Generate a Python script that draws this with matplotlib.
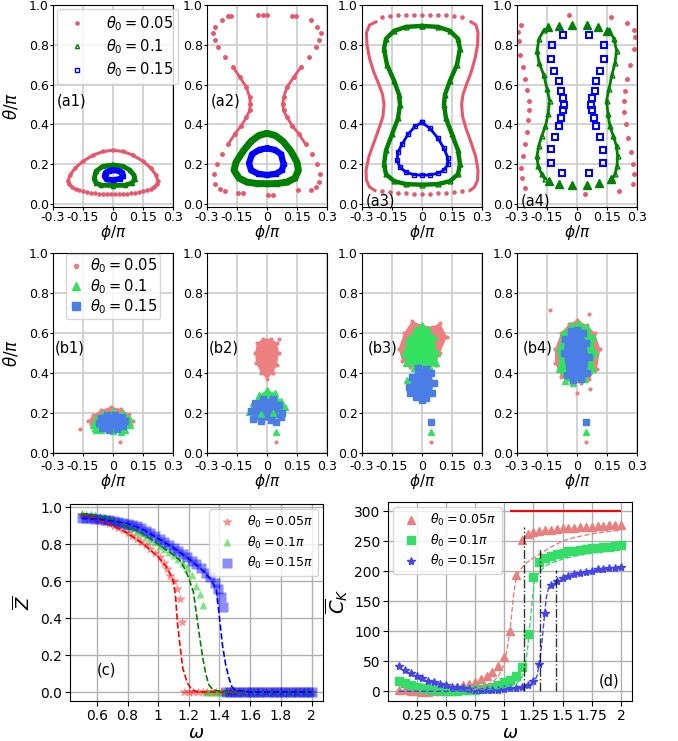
import numpy as np
import matplotlib.pyplot as plt

# ---------------- colours ----------------
PINK_A, GREEN_A, BLUE_A = '#e8566c', 'green', 'blue'
PINK_B, GREEN_B, BLUE_B = '#ec8080', '#33e060', '#4a7ee6'

# ---------------- (a) orbits ----------------
a1_pink_phi = [-0.185, -0.205, -0.22, -0.225, -0.215, -0.19, -0.15, -0.1, -0.05, 0, 0.05, 0.1, 0.15, 0.19, 0.215, 0.225, 0.22, 0.205, 0.19]
a1_pink_theta = [0.073, 0.085, 0.1, 0.115, 0.145, 0.18, 0.215, 0.245, 0.264, 0.27, 0.264, 0.245, 0.215, 0.18, 0.145, 0.115, 0.1, 0.085, 0.073]
a1_pdot_phi = [-0.17, -0.15, -0.13, -0.11, -0.09, -0.07, -0.05, -0.03, -0.01, 0.01, 0.03, 0.05, 0.07, 0.09, 0.11, 0.13, 0.15, 0.17]
a1_pdot_theta = [0.068, 0.063, 0.059, 0.056, 0.054, 0.052, 0.051, 0.05, 0.05, 0.05, 0.05, 0.051, 0.052, 0.054, 0.056, 0.059, 0.063, 0.068]
a1_green_phi = [0, 0.05, 0.085, 0.105, 0.108, 0.095, 0.06, 0, -0.06, -0.085, -0.093, -0.085, -0.05, 0]
a1_green_theta = [0.196, 0.19, 0.17, 0.145, 0.125, 0.105, 0.095, 0.093, 0.095, 0.105, 0.13, 0.165, 0.19, 0.196]
a1_blue_phi = [0, 0.03, 0.046, 0.05, 0.037, 0, -0.032, -0.042, -0.037, -0.022, 0]
a1_blue_theta = [0.171, 0.166, 0.157, 0.143, 0.127, 0.12, 0.124, 0.14, 0.157, 0.167, 0.171]

a2_pl_phi = [-0.194, -0.227, -0.26, -0.269, -0.26, -0.244, -0.211, -0.17, -0.136, -0.103, -0.087, -0.083, -0.087, -0.103, -0.128, -0.161, -0.194, -0.227, -0.252, -0.265, -0.26, -0.235, -0.211]
a2_pl_theta = [0.946, 0.924, 0.89, 0.857, 0.823, 0.79, 0.739, 0.688, 0.638, 0.587, 0.537, 0.503, 0.47, 0.436, 0.394, 0.352, 0.3, 0.251, 0.2, 0.15, 0.1, 0.074, 0.066]
a2_pr_phi = [0.145, 0.22, 0.252, 0.269, 0.262, 0.245, 0.212, 0.17, 0.134, 0.1, 0.083, 0.079, 0.083, 0.1, 0.126, 0.16, 0.193, 0.226, 0.25, 0.265, 0.262, 0.244, 0.22]
a2_pr_theta = [0.946, 0.924, 0.89, 0.857, 0.823, 0.79, 0.739, 0.688, 0.638, 0.587, 0.537, 0.503, 0.47, 0.436, 0.394, 0.352, 0.3, 0.251, 0.2, 0.15, 0.11, 0.085, 0.07]
a2_pdot_phi = [-0.18, -0.045, -0.022, 0.0, 0.125, -0.145, -0.12, 0.004, 0.029, 0.155]
a2_pdot_theta = [0.945, 0.95, 0.95, 0.95, 0.945, 0.055, 0.055, 0.047, 0.047, 0.068]
a2_green_phi = [0, 0.04, 0.08, 0.12, 0.15, 0.157, 0.14, 0.1, 0.05, 0, -0.05, -0.1, -0.14, -0.165, -0.155, -0.12, -0.08, -0.04, 0]
a2_green_theta = [0.355, 0.345, 0.315, 0.265, 0.21, 0.17, 0.13, 0.11, 0.103, 0.102, 0.103, 0.11, 0.13, 0.17, 0.21, 0.265, 0.315, 0.345, 0.355]
a2_blue_phi = [0, 0.04, 0.07, 0.083, 0.075, 0.045, 0, -0.045, -0.08, -0.09, -0.075, -0.04, 0]
a2_blue_theta = [0.28, 0.272, 0.25, 0.2, 0.17, 0.152, 0.146, 0.152, 0.17, 0.205, 0.25, 0.272, 0.28]

a3_pl_phi = [-0.23, -0.262, -0.278, -0.275, -0.262, -0.24, -0.215, -0.197, -0.19, -0.195, -0.215, -0.24, -0.265, -0.28, -0.278, -0.262, -0.235]
a3_pl_theta = [0.915, 0.9, 0.86, 0.8, 0.73, 0.66, 0.6, 0.55, 0.5, 0.44, 0.38, 0.31, 0.24, 0.17, 0.12, 0.085, 0.068]
a3_pr_phi = [0.245, 0.27, 0.28, 0.278, 0.265, 0.245, 0.222, 0.205, 0.198, 0.203, 0.22, 0.245, 0.268, 0.28, 0.278, 0.262, 0.24]
a3_pr_theta = [0.915, 0.9, 0.86, 0.8, 0.73, 0.66, 0.6, 0.55, 0.5, 0.44, 0.38, 0.31, 0.24, 0.17, 0.12, 0.085, 0.068]
a3_pdot_phi = [-0.2, -0.16, -0.12, -0.08, -0.04, 0, 0.04, 0.08, 0.12, 0.16, 0.2,
               -0.2, -0.16, -0.12, -0.08, -0.04, 0, 0.04, 0.08, 0.12, 0.16, 0.2]
a3_pdot_theta = [0.94, 0.945, 0.948, 0.95, 0.95, 0.95, 0.95, 0.95, 0.948, 0.945, 0.94,
                 0.065, 0.06, 0.056, 0.053, 0.052, 0.052, 0.052, 0.053, 0.056, 0.06, 0.065]
a3_green_phi = [0, 0.08, 0.14, 0.18, 0.19, 0.175, 0.14, 0.115, 0.11, 0.12, 0.15, 0.18, 0.19, 0.18, 0.14, 0.08, 0,
                -0.08, -0.14, -0.18, -0.19, -0.18, -0.15, -0.12, -0.11, -0.115, -0.14, -0.175, -0.19, -0.18, -0.14, -0.08, 0]
a3_green_theta = [0.895, 0.89, 0.87, 0.83, 0.78, 0.7, 0.62, 0.55, 0.5, 0.43, 0.35, 0.27, 0.2, 0.15, 0.115, 0.1, 0.097,
                  0.1, 0.115, 0.15, 0.2, 0.27, 0.35, 0.43, 0.5, 0.55, 0.62, 0.7, 0.78, 0.83, 0.87, 0.89, 0.895]
a3_blue_phi = [0, 0.04, 0.08, 0.11, 0.13, 0.13, 0.11, 0.08, 0.04, 0, -0.04, -0.08, -0.11, -0.125, -0.12, -0.1, -0.07, -0.035, 0]
a3_blue_theta = [0.41, 0.38, 0.33, 0.28, 0.23, 0.2, 0.17, 0.155, 0.146, 0.145, 0.147, 0.16, 0.185, 0.22, 0.26, 0.3, 0.35, 0.39, 0.41]

a4_pink_phi = [-0.28, -0.293, -0.29, -0.284, -0.272, -0.26, -0.25, -0.24, -0.24, -0.245, -0.252, -0.262, -0.272, -0.28, -0.275, -0.26,
               0.25, 0.283, 0.29, 0.283, 0.265, 0.25, 0.24, 0.235, 0.237, 0.245, 0.255, 0.27, 0.28, 0.285, 0.28, 0.21,
               -0.04, 0.17, 0.04]
a4_pink_theta = [0.9, 0.865, 0.82, 0.75, 0.69, 0.63, 0.575, 0.52, 0.47, 0.42, 0.36, 0.3, 0.24, 0.18, 0.13, 0.08,
                 0.91, 0.875, 0.84, 0.78, 0.7, 0.63, 0.57, 0.52, 0.46, 0.4, 0.33, 0.26, 0.2, 0.15, 0.1, 0.065,
                 0.95, 0.94, 0.05]
a4_gl_phi = [-0.165, -0.19, -0.2, -0.19, -0.167, -0.15, -0.137, -0.145, -0.158, -0.177, -0.192, -0.2, -0.195, -0.177, -0.16]
a4_gr_phi = [0.16, 0.185, 0.198, 0.19, 0.175, 0.16, 0.148, 0.155, 0.165, 0.182, 0.198, 0.203, 0.2, 0.19, 0.175]
a4_gside_theta = [0.875, 0.83, 0.77, 0.71, 0.65, 0.58, 0.52, 0.45, 0.39, 0.34, 0.29, 0.24, 0.19, 0.15, 0.125]
a4_gcap_phi = [-0.143, -0.088, -0.027, 0.048, 0.107, 0.148, -0.14, -0.09, -0.023, 0.052, 0.11, 0.168]
a4_gcap_theta = [0.89, 0.894, 0.9, 0.9, 0.89, 0.87, 0.116, 0.1, 0.098, 0.098, 0.104, 0.125]
a4_blue_phi = [-0.072, -0.127, -0.13, -0.117, -0.092, -0.08, -0.07, -0.067, -0.07, -0.08, -0.092, -0.112, -0.13, -0.128, -0.075,
               0.062, 0.137, 0.133, 0.113, 0.097, 0.088, 0.075, 0.072, 0.075, 0.083, 0.097, 0.113, 0.13, 0.13, 0.062]
a4_blue_theta = [0.848, 0.8, 0.73, 0.67, 0.62, 0.57, 0.535, 0.5, 0.47, 0.43, 0.39, 0.335, 0.275, 0.207, 0.155,
                 0.848, 0.8, 0.73, 0.67, 0.62, 0.57, 0.535, 0.5, 0.47, 0.43, 0.39, 0.335, 0.27, 0.205, 0.155]

# ---------------- (b) clouds: outline vertices + stray points ----------------
b_pink = [
    ([-0.125, -0.1, -0.06, -0.01, 0.04, 0.08, 0.1, 0.09, 0.05, -0.05, -0.11], [0.16, 0.19, 0.215, 0.232, 0.22, 0.195, 0.16, 0.14, 0.13, 0.13, 0.145]),
    ([-0.06, -0.05, -0.02, 0.02, 0.05, 0.06, 0.05, 0.03, 0, -0.03, -0.055], [0.5, 0.55, 0.572, 0.572, 0.55, 0.5, 0.44, 0.4, 0.37, 0.4, 0.45]),
    ([-0.117, -0.09, -0.05, 0, 0.05, 0.09, 0.125, 0.09, 0.07, 0.04, -0.06, -0.1], [0.52, 0.6, 0.66, 0.64, 0.63, 0.65, 0.58, 0.5, 0.44, 0.43, 0.43, 0.46]),
    ([-0.11, -0.08, -0.04, 0, 0.05, 0.09, 0.117, 0.1, 0.06, 0.02, -0.03, -0.08, -0.11], [0.52, 0.6, 0.645, 0.665, 0.64, 0.6, 0.52, 0.42, 0.37, 0.35, 0.35, 0.38, 0.45]),
]
b_green = [
    ([-0.1, -0.085, -0.05, 0, 0.05, 0.08, 0.085, 0.06, 0, -0.06, -0.09], [0.14, 0.175, 0.2, 0.208, 0.2, 0.175, 0.14, 0.115, 0.108, 0.115, 0.125]),
    ([-0.092, -0.07, -0.04, 0, 0.04, 0.07, 0.092, 0.07, 0.03, -0.03], [0.205, 0.25, 0.29, 0.315, 0.3, 0.26, 0.23, 0.215, 0.2, 0.195]),
    ([-0.092, -0.07, -0.03, 0, 0.03, 0.06, 0.075, 0.07, 0.04, -0.04, -0.08], [0.5, 0.57, 0.62, 0.642, 0.62, 0.58, 0.5, 0.45, 0.425, 0.425, 0.45]),
    ([-0.092, -0.07, -0.03, 0.01, 0.05, 0.08, 0.092, 0.08, 0.04, -0.02, -0.06, -0.09], [0.52, 0.6, 0.64, 0.65, 0.63, 0.58, 0.5, 0.42, 0.37, 0.35, 0.36, 0.42]),
]
b_blue = [
    ([-0.07, -0.06, -0.03, 0.01, 0.045, 0.058, 0.05, 0.02, -0.02, -0.055], [0.15, 0.175, 0.19, 0.192, 0.18, 0.16, 0.135, 0.118, 0.116, 0.125]),
    ([-0.08, -0.06, -0.02, 0.03, 0.06, 0.075, 0.07, 0.02, -0.03, -0.07], [0.21, 0.25, 0.272, 0.27, 0.24, 0.2, 0.18, 0.165, 0.158, 0.17]),
    ([-0.067, -0.05, -0.02, 0.02, 0.045, 0.058, 0.05, 0.02, 0, -0.03, -0.06], [0.33, 0.38, 0.425, 0.42, 0.4, 0.35, 0.3, 0.275, 0.267, 0.28, 0.3]),
    ([-0.067, -0.06, -0.03, 0.0, 0.03, 0.045, 0.058, 0.05, 0.02, -0.02, -0.05], [0.5, 0.57, 0.61, 0.617, 0.6, 0.55, 0.48, 0.4, 0.37, 0.367, 0.39]),
]
b_pink_stray = [([-0.167, 0.037], [0.12, 0.053]), ([0.047, 0.058], [0.053, 0.57]),
                ([0.045], [0.053]), ([0.045, -0.133, 0.058, 0.0, 0.065], [0.053, 0.717, 0.697, 0.3, 0.32])]
b_green_stray = [([-0.083, 0.042], [0.117, 0.103]), ([0.047], [0.103]), ([0.045, -0.075], [0.103, 0.367]), ([0.045], [0.103])]
b_blue_stray = [([], []), ([0.047], [0.153]), ([0.045], [0.153]), ([0.045], [0.153])]

# ---------------- (c) order parameter ----------------
c_w_red = [0.50, 0.53, 0.56, 0.59, 0.62, 0.65, 0.68, 0.71, 0.74, 0.77, 0.80, 0.83, 0.86, 0.89, 0.92, 0.95, 0.98, 1.01, 1.04, 1.06, 1.08, 1.10, 1.12, 1.14, 1.155,
           1.17, 1.20, 1.23, 1.26, 1.29, 1.32, 1.35, 1.38, 1.41, 1.44, 1.47, 1.50, 1.55, 1.60, 1.65, 1.70, 1.75, 1.80, 1.85, 1.90, 1.95, 2.0]
c_z_red = [0.958, 0.952, 0.945, 0.937, 0.929, 0.920, 0.910, 0.899, 0.887, 0.874, 0.860, 0.845, 0.829, 0.812, 0.793, 0.773, 0.751, 0.728, 0.695, 0.665, 0.628, 0.598, 0.557, 0.503, 0.381,
           0, 0, 0, 0, 0, 0, 0, 0, 0, 0, 0, 0, 0, 0, 0, 0, 0, 0, 0, 0, 0, 0]
c_w_green = [0.50, 0.53, 0.56, 0.59, 0.62, 0.65, 0.68, 0.71, 0.74, 0.77, 0.80, 0.83, 0.86, 0.89, 0.92, 0.95, 0.98, 1.01, 1.04, 1.07, 1.10, 1.13, 1.16, 1.19, 1.22, 1.25, 1.27, 1.29,
             1.31, 1.34, 1.37, 1.40, 1.43, 1.46, 1.50, 1.55, 1.60, 1.65, 1.70, 1.75, 1.80, 1.85, 1.90, 1.95, 2.0]
c_z_green = [0.968, 0.964, 0.96, 0.955, 0.95, 0.944, 0.937, 0.93, 0.921, 0.911, 0.898, 0.886, 0.873, 0.859, 0.844, 0.828, 0.81, 0.792, 0.775, 0.757, 0.74, 0.72, 0.697, 0.67, 0.63, 0.575, 0.53, 0.472,
             0, 0, 0, 0, 0, 0, 0, 0, 0, 0, 0, 0, 0, 0, 0, 0, 0]
c_w_blue = [0.50, 0.53, 0.56, 0.59, 0.62, 0.65, 0.68, 0.71, 0.74, 0.77, 0.80, 0.83, 0.86, 0.89, 0.92, 0.95, 0.98, 1.01, 1.04, 1.07, 1.10, 1.13, 1.16, 1.19, 1.22, 1.25, 1.28, 1.31, 1.34, 1.37, 1.39, 1.41, 1.425,
            1.44, 1.47, 1.50, 1.53, 1.56, 1.59, 1.62, 1.65, 1.68, 1.71, 1.74, 1.77, 1.80, 1.83, 1.86, 1.89, 1.92, 1.95, 1.98, 2.0]
c_z_blue = [0.942, 0.941, 0.939, 0.937, 0.934, 0.931, 0.928, 0.924, 0.92, 0.915, 0.91, 0.903, 0.895, 0.885, 0.873, 0.86, 0.845, 0.828, 0.812, 0.796, 0.78, 0.765, 0.748, 0.73, 0.71, 0.69, 0.668, 0.645, 0.62, 0.59, 0.555, 0.515, 0.461,
            0, 0, 0, 0, 0, 0, 0, 0, 0, 0, 0, 0, 0, 0, 0, 0, 0, 0, 0, 0]
c_fit_w_red = [0.5, 0.6, 0.7, 0.8, 0.9, 1.0, 1.05, 1.08, 1.1, 1.115, 1.125, 1.14, 1.16, 1.19, 1.22, 1.26, 1.4, 2.0]
c_fit_z_red = [0.962, 0.936, 0.9, 0.86, 0.803, 0.73, 0.68, 0.635, 0.6, 0.5, 0.38, 0.27, 0.13, 0.05, 0.012, 0.0, 0.0, 0.0]
c_fit_w_green = [0.5, 0.6, 0.7, 0.8, 0.9, 1.0, 1.1, 1.15, 1.19, 1.21, 1.23, 1.25, 1.27, 1.29, 1.31, 1.33, 1.36, 1.45, 2.0]
c_fit_z_green = [0.965, 0.953, 0.935, 0.897, 0.856, 0.8, 0.742, 0.705, 0.635, 0.59, 0.54, 0.42, 0.3, 0.19, 0.1, 0.04, 0.01, 0.0, 0.0]
c_fit_w_blue = [0.5, 0.6, 0.7, 0.8, 0.9, 1.0, 1.1, 1.2, 1.3, 1.35, 1.38, 1.4, 1.42, 1.44, 1.46, 1.48, 1.5, 1.6, 2.0]
c_fit_z_blue = [0.938, 0.935, 0.925, 0.912, 0.88, 0.83, 0.78, 0.72, 0.65, 0.6, 0.55, 0.4, 0.25, 0.15, 0.08, 0.03, 0.01, 0.0, 0.0]

# ---------------- (d) C_K ----------------
d_w = [0.10, 0.15, 0.20, 0.25, 0.30, 0.35, 0.40, 0.45, 0.50, 0.55, 0.60, 0.65, 0.70, 0.75, 0.80, 0.85, 0.90, 0.95, 1.00,
       1.05, 1.10, 1.15, 1.20, 1.25, 1.30, 1.35, 1.40, 1.45, 1.50, 1.55, 1.60, 1.65, 1.70, 1.75, 1.80, 1.85, 1.90, 1.95, 2.00]
d_c_red = [3, 2, 1, 0, -1, -1, 0, 1, 4, 6, 8, 10, 13, 16, 20, 26, 33, 42, 57,
           100, 193, 252, 262, 265, 267, 268, 269, 270, 271, 272, 272, 273, 274, 274, 275, 275, 276, 276, 277]
d_c_green = [18, 14, 10, 7, 5, 4, 3, 2, 1, 1, 1, 2, 2, 3, 4, 6, 8, 11, 15,
             19, 26, 40, 96, 190, 215, 222, 226, 229, 231, 233, 234, 236, 237, 238, 239, 240, 241, 242, 243]
d_c_blue = [42, 35, 30, 26, 22, 18, 15, 12, 10, 8, 7, 5, 4, 3, 3, 2, 2, 3, 4,
            5, 6, 8, 11, 17, 45, 130, 177, 184, 188, 192, 195, 197, 199, 201, 203, 204, 205, 206, 207]
d_fit_w_red = [0.1, 0.3, 0.5, 0.7, 0.8, 0.9, 0.95, 1.0, 1.03, 1.06, 1.08, 1.1, 1.13, 1.17, 1.22, 1.3, 1.4, 1.5, 1.6, 1.75, 1.9, 2.0]
d_fit_c_red = [0, 0, 0, 2, 6, 15, 25, 45, 75, 120, 160, 185, 200, 210, 218, 228, 240, 250, 256, 262, 266, 268]
d_fit_w_green = [0.1, 0.5, 0.9, 1.0, 1.1, 1.15, 1.18, 1.2, 1.22, 1.24, 1.26, 1.3, 1.35, 1.4, 1.5, 1.6, 1.75, 1.9, 2.0]
d_fit_c_green = [0, 0, 3, 6, 12, 22, 40, 70, 110, 150, 185, 198, 208, 213, 220, 225, 230, 234, 236]
d_fit_w_blue = [0.1, 0.5, 1.0, 1.2, 1.25, 1.28, 1.3, 1.32, 1.34, 1.36, 1.38, 1.4, 1.45, 1.5, 1.6, 1.75, 1.9, 2.0]
d_fit_c_blue = [0, 0, 2, 8, 14, 25, 45, 75, 115, 155, 172, 177, 182, 186, 192, 198, 203, 205]
d_crit_w = [1.168, 1.308, 1.443]
d_crit_top = [274, 238, 202]

# ---------------- figure ----------------
fig = plt.figure(figsize=(6.78, 7.41), dpi=100)
W, H = 678, 741
lefts = [53, 207, 362, 517]


def panel_axes(left, top, bottom, width=120):
    return fig.add_axes([left / W, 1 - bottom / H, width / W, (bottom - top) / H])


def style_phase(ax, ylim, xpad=1):
    ax.set_xlim(-0.3, 0.3)
    ax.set_ylim(*ylim)
    ax.set_xticks([-0.3, -0.15, 0, 0.15, 0.3])
    ax.set_xticklabels(['-0.3', '-0.15', '0', '0.15', '0.3'])
    ax.set_yticks([0, 0.2, 0.4, 0.6, 0.8, 1.0])
    ax.set_yticklabels(['0.0', '0.2', '0.4', '0.6', '0.8', '1.0'])
    ax.tick_params(labelsize=9, length=2, pad=1)
    ax.tick_params(axis='x', pad=xpad)
    ax.grid(True, color='0.8', lw=1.2)
    ax.set_axisbelow(True)
    ax.set_xlabel(r'$\phi/\pi$', fontsize=11, labelpad=-1)


def band(ax, phi, theta, color, lw, marker, ms, label=None, mfc='none'):
    ax.plot(phi, theta, '-', color=color, lw=lw, solid_capstyle='round')
    ax.plot(phi, theta, marker, ls='none', color=color, ms=ms, mfc=mfc, mew=1, label=label)


# row a
axa = [panel_axes(l, 5, 207) for l in lefts]
for ax in axa:
    style_phase(ax, (-0.015, 1.0))

ax = axa[0]
ax.plot(a1_pink_phi, a1_pink_theta, '-', color=PINK_A, lw=2.2)
ax.plot(a1_pdot_phi + a1_pink_phi, a1_pdot_theta + a1_pink_theta, '.', color=PINK_A, ms=4.5,
        label=r'$\theta_0 = 0.05$')
band(ax, a1_green_phi, a1_green_theta, GREEN_A, 3.5, '^', 3, r'$\theta_0 = 0.1$')
band(ax, a1_blue_phi, a1_blue_theta, BLUE_A, 4.2, 's', 2.5, r'$\theta_0 = 0.15$')
ax.legend(loc='upper left', fontsize=10.5, borderpad=0.35, labelspacing=0.3,
          handletextpad=1.0, borderaxespad=0.3)
ax.set_ylabel(r'$\theta/\pi$', fontsize=12)
ax.yaxis.set_label_coords(-0.27, 0.5)

ax = axa[1]
for ph, th in [(a2_pl_phi, a2_pl_theta), (a2_pr_phi, a2_pr_theta)]:
    ax.plot(ph[7:17], th[7:17], '-', color=PINK_A, lw=2)
    ax.plot(ph, th, '.', color=PINK_A, ms=5)
ax.plot(a2_pdot_phi, a2_pdot_theta, '.', color=PINK_A, ms=5)
band(ax, a2_green_phi, a2_green_theta, GREEN_A, 5, '^', 3)
band(ax, a2_blue_phi, a2_blue_theta, BLUE_A, 4.5, 's', 3)

ax = axa[2]
for ph, th in [(a3_pl_phi, a3_pl_theta), (a3_pr_phi, a3_pr_theta)]:
    ax.plot(ph, th, '-', color=PINK_A, lw=2.2)
ax.plot(a3_pdot_phi, a3_pdot_theta, '.', color=PINK_A, ms=4.5)
band(ax, a3_green_phi, a3_green_theta, GREEN_A, 3.2, '^', 3.5)
ax.plot(a3_blue_phi, a3_blue_theta, '-', color=BLUE_A, lw=2)
ax.plot(a3_blue_phi, a3_blue_theta, 's', ls='none', color=BLUE_A, ms=3.5, mfc='none')

ax = axa[3]
ax.plot(a4_pink_phi, a4_pink_theta, '.', color=PINK_A, ms=5)
for ph in [a4_gl_phi, a4_gr_phi]:
    band(ax, ph, a4_gside_theta, GREEN_A, 2, '^', 3.5)
ax.plot(a4_gcap_phi, a4_gcap_theta, '^', ls='none', color=GREEN_A, ms=5.5)
ax.plot(a4_blue_phi, a4_blue_theta, 's', ls='none', color=BLUE_A, ms=4, mfc='none', mew=1.5)

for ax, lab, y in zip(axa, ['(a1)', '(a2)', '(a3)', '(a4)'], [0.52, 0.52, 0.015, 0.015]):
    ax.text(-0.28, y, lab, fontsize=10.5, va='center', ha='left')

# row b
axb = [panel_axes(l, 253, 453) for l in lefts]
for i, ax in enumerate(axb):
    style_phase(ax, (0, 1.0), xpad=3)
    for clouds, strays, col, mk, ms in [(b_pink, b_pink_stray, PINK_B, '.', 4),
                                        (b_green, b_green_stray, GREEN_B, '^', 5),
                                        (b_blue, b_blue_stray, BLUE_B, 's', 5)]:
        ph, th = clouds[i]
        ax.fill(ph, th, color=col, lw=0)
        ax.plot(ph + strays[i][0], th + strays[i][1], mk, ls='none', color=col, ms=ms)
    ax.text(-0.29 if i < 2 else -0.27, 0.525, '(b%d)' % (i + 1), fontsize=10.5, va='center')

ax = axb[0]
h1, = ax.plot([], [], '.', color=PINK_B, ms=6)
h2, = ax.plot([], [], '^', color=GREEN_B, ms=6)
h3, = ax.plot([], [], 's', color=BLUE_B, ms=6)
ax.legend([h1, h2, h3], [r'$\theta_0 = 0.05$', r'$\theta_0 = 0.1$', r'$\theta_0 = 0.15$'],
          loc='upper center', fontsize=10.5, handlelength=1.0, handletextpad=0.5,
          labelspacing=0.1, borderpad=0.2, borderaxespad=0.05)
ax.set_ylabel(r'$\theta/\pi$', fontsize=12)
ax.yaxis.set_label_coords(-0.27, 0.5)

# panel c
axc = fig.add_axes([70 / W, 1 - 701 / H, 253 / W, 197 / H])
axc.plot(c_w_red, c_z_red, '*', color='red', alpha=0.45, ms=7, mec='none', label=r'$\theta_0 = 0.05\pi$')
axc.plot(c_w_green, c_z_green, '^', color='#22cc22', alpha=0.55, ms=6, mec='none', label=r'$\theta_0 = 0.1\pi$')
axc.plot(c_w_blue, c_z_blue, 's', color='blue', alpha=0.45, ms=7, mec='none', label=r'$\theta_0 = 0.15\pi$')
axc.plot(c_fit_w_red, c_fit_z_red, '--', color='red', lw=1.2)
axc.plot(c_fit_w_green, c_fit_z_green, '--', color='green', lw=1.2)
axc.plot(c_fit_w_blue, c_fit_z_blue, '--', color='blue', lw=1.2)
axc.set_xticks([0.6, 0.8, 1, 1.2, 1.4, 1.6, 1.8, 2])
axc.set_xticklabels(['0.6', '0.8', '1', '1.2', '1.4', '1.6', '1.8', '2'])
axc.set_yticks([0, 0.2, 0.4, 0.6, 0.8, 1.0])
axc.set_yticklabels(['0.0', '0.2', '0.4', '0.6', '0.8', '1.0'])
axc.tick_params(labelsize=10, pad=2)
axc.grid(True, lw=1)
axc.set_axisbelow(True)
axc.legend(loc='upper right', fontsize=9, labelspacing=0.35, handletextpad=0.6, borderaxespad=0.4)
axc.set_xlabel(r'$\omega$', fontsize=13)
axc.xaxis.set_label_coords(0.5, -0.115)
axc.set_ylabel(r'$\overline{Z}$', fontsize=13)
axc.yaxis.set_label_coords(-0.145, 0.5)
axc.text(0.6, 0.117, '(c)', fontsize=10.5, va='center')

# panel d
axd = fig.add_axes([388 / W, 1 - 701 / H, 244 / W, 199 / H])
axd.plot(d_w, d_c_red, '^', color='#e98080', ms=6, label=r'$\theta_0 = 0.05\pi$')
axd.plot(d_w, d_c_green, 's', color='#33dd66', ms=6, label=r'$\theta_0 = 0.1\pi$')
axd.plot(d_w, d_c_blue, '*', color='#4444e8', ms=6, label=r'$\theta_0 = 0.15\pi$')
axd.plot(d_fit_w_red, d_fit_c_red, '--', color='#e98080', lw=1)
axd.plot(d_fit_w_green, d_fit_c_green, '--', color='#33dd66', lw=1)
axd.plot(d_fit_w_blue, d_fit_c_blue, '--', color='#4444e8', lw=1)
axd.hlines(300, 1.05, 2.0, color='red', lw=1.5)
for x, top in zip(d_crit_w, d_crit_top):
    axd.vlines(x, 0, top, colors='k', linestyles='-.', lw=1, alpha=0.8)
axd.set_xticks([0.25, 0.5, 0.75, 1, 1.25, 1.5, 1.75, 2])
axd.set_xticklabels(['0.25', '0.5', '0.75', '1', '1.25', '1.5', '1.75', '2'])
axd.set_yticks([0, 50, 100, 150, 200, 250, 300])
axd.tick_params(labelsize=10, pad=2)
axd.grid(True, lw=1)
axd.set_axisbelow(True)
axd.legend(loc='upper left', fontsize=9, labelspacing=0.35, handletextpad=0.6, borderaxespad=0.4)
axd.set_xlabel(r'$\omega$', fontsize=13)
axd.xaxis.set_label_coords(0.5, -0.115)
axd.set_ylabel(r'$\overline{C}_K$', fontsize=14)
axd.yaxis.set_label_coords(-0.155, 0.5)
axd.text(1.81, 17.5, '(d)', fontsize=10.5, va='center')

fig.savefig('out.png', dpi=100)
